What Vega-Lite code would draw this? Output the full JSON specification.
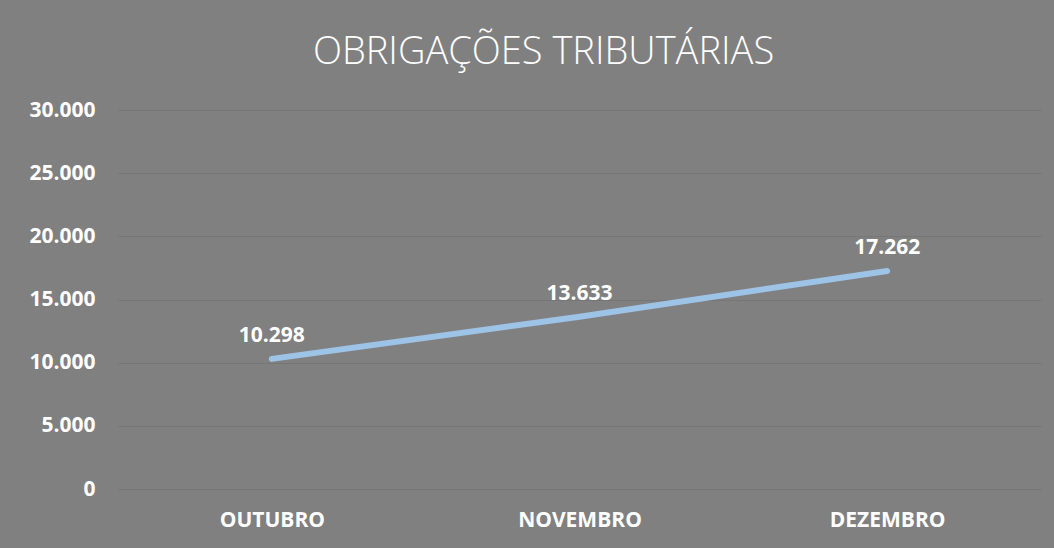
{
  "$schema": "https://vega.github.io/schema/vega-lite/v6.json",
  "autosize": {"type": "none"},
  "width": 923,
  "height": 379,
  "padding": {"left": 118, "top": 110, "right": 13, "bottom": 59},
  "background": "#808080",
  "title": {
    "text": "OBRIGAÇÕES TRIBUTÁRIAS",
    "font": "Open Sans",
    "fontWeight": 300,
    "fontSize": 38,
    "color": "#ffffff",
    "anchor": "middle",
    "dx": -36,
    "offset": -3,
    "baseline": "alphabetic"
  },
  "data": {
    "values": [
      {"mes": "OUTUBRO", "valor": 10298},
      {"mes": "NOVEMBRO", "valor": 13633},
      {"mes": "DEZEMBRO", "valor": 17262}
    ]
  },
  "config": {
    "locale": {"number": {"decimal": ",", "thousands": ".", "grouping": [3], "currency": ["R$", ""]}},
    "view": {"stroke": null},
    "axis": {"labelFont": "Open Sans", "labelFontWeight": "bold", "labelColor": "#ffffff", "labelFontSize": 21}
  },
  "encoding": {
    "x": {
      "field": "mes", "type": "nominal", "sort": null,
      "axis": {"title": null, "labelAngle": 0, "domain": false, "ticks": false, "labelPadding": 20},
      "scale": {"paddingInner": 0, "paddingOuter": 0.5}
    },
    "y": {
      "field": "valor", "type": "quantitative",
      "scale": {"domain": [0, 30000], "nice": false},
      "axis": {
        "title": null, "values": [0, 5000, 10000, 15000, 20000, 25000, 30000],
        "format": ",d",
        "domain": false, "ticks": false, "labelPadding": 23,
        "gridColor": "#767676", "gridWidth": 1.2
      }
    }
  },
  "layer": [
    {
      "mark": {"type": "line", "color": "#9DC3E6", "strokeWidth": 6, "strokeCap": "round"}
    },
    {
      "mark": {"type": "text", "font": "Open Sans", "fontWeight": "bold", "fontSize": 21, "color": "#ffffff", "dy": -23, "baseline": "middle"},
      "encoding": {"text": {"field": "valor", "type": "quantitative", "format": ",d"}}
    }
  ]
}
